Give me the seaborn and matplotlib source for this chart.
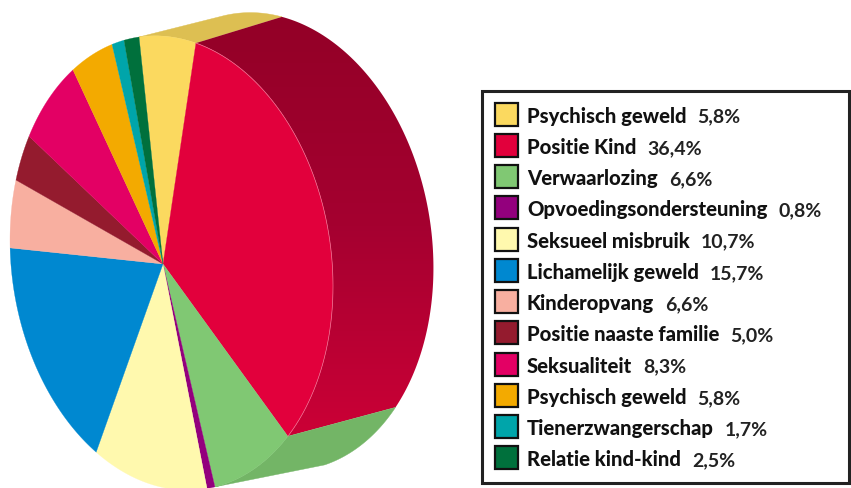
import numpy as np
import matplotlib
matplotlib.use("Agg")
import matplotlib.pyplot as plt
from matplotlib.colors import LinearSegmentedColormap
from matplotlib.patches import Polygon, Rectangle
import seaborn as sns

# ---- data
labels = ["Psychisch geweld", "Positie Kind", "Verwaarlozing", "Opvoedingsondersteuning",
          "Seksueel misbruik", "Lichamelijk geweld", "Kinderopvang", "Positie naaste familie",
          "Seksualiteit", "Psychisch geweld", "Tienerzwangerschap", "Relatie kind-kind"]
printed = ["5,8%", "36,4%", "6,6%", "0,8%", "10,7%", "15,7%", "6,6%", "5,0%", "8,3%", "5,8%", "1,7%", "2,5%"]
# slice sizes as they are actually drawn (degrees of the rim, the original is not exactly proportional)
drawn_degrees = [20.3, 125.2, 30.5, 2.9, 40.5, 60.2, 17.6, 12.5, 24.3, 16.0, 4.5, 5.5]
colors = ["#FBD95F", "#E2003C", "#80C873", "#93007D", "#FFF9AE", "#0088D0",
          "#F8AFA0", "#941B2E", "#E30064", "#F3AA00", "#00A5AA", "#00703C"]
wall_colors = {0: "#DDBF52", 2: "#73B566"}

sns.set_theme(style="white")
palette = sns.color_palette(colors)
W, H = 851, 488
fig = plt.figure(figsize=(W / 100, H / 100), dpi=100)
ax = fig.add_axes([0, 0, 1, 1])
ax.set_xlim(0, W)
ax.set_ylim(H, 0)
ax.axis("off")

# ---- projection of the tilted disc
APEX = np.array([163.0, 264.0])
START = -101.6


def rim(phi_deg):
    p = np.radians(phi_deg)
    u, v = np.cos(p), np.sin(p)
    return np.column_stack([171.5 + 161.5 * u, 263.0 + 23.0 * u + 226.0 * v])


def back(phi_deg):
    p = np.radians(phi_deg)
    u, v = np.cos(p), np.sin(p)
    return np.column_stack([269.0 + 164.0 * u + 12.0 * v, 241.8 + 9.4 * u + 229.0 * v])


edges = START + np.concatenate([[0], np.cumsum(drawn_degrees)])

# walls
for i in (0, 1, 2):
    phis = np.linspace(edges[i], edges[i + 1], 120)
    poly = np.vstack([rim(phis), back(phis)[::-1]])
    if i == 1:
        cmap = LinearSegmentedColormap.from_list("wall", ["#930027", "#A50030", "#CB0036"])
        im = ax.imshow(np.linspace(0, 1, 256)[:, None], cmap=cmap, aspect="auto",
                       extent=[0, W, poly[:, 1].max(), poly[:, 1].min()], zorder=1)
        patch = Polygon(poly, closed=True, transform=ax.transData, fc="none", ec="none")
        ax.add_patch(patch)
        im.set_clip_path(patch)
    else:
        ax.fill(poly[:, 0], poly[:, 1], color=wall_colors[i], lw=0.3, zorder=1)
ax.set_xlim(0, W)
ax.set_ylim(H, 0)

# front face
for i, c in enumerate(palette):
    arc = rim(np.linspace(edges[i], edges[i + 1], 120))
    poly = np.vstack([APEX, arc])
    ax.fill(poly[:, 0], poly[:, 1], color=c, lw=0.2, zorder=2)
red_arc = rim(np.linspace(edges[1], edges[2], 200))
ax.plot(red_arc[:, 0], red_arc[:, 1], color="#EE6F90", lw=0.5, zorder=3)

# ---- legend
ax.add_patch(Rectangle((481.5, 90.5), 367, 392, fc="white", ec="#222222", lw=2.2, zorder=4))
FONT = "Lato"
fig.canvas.draw()
rend = fig.canvas.get_renderer()
for i, (lab, pct, c) in enumerate(zip(labels, printed, palette)):
    y = 113.5 + i * 31.27
    ax.add_patch(Rectangle((495, y - 11), 23, 23, fc=c, ec="#111111", lw=1.6, zorder=5))
    t = ax.text(527, y + 2.5, lab, family=FONT, weight="black", fontsize=14.6, color="#111111",
                va="center", ha="left", zorder=5)
    bb = t.get_window_extent(rend)
    ax.text(bb.x1 + 11, y + 3.5, pct, family=FONT, weight="bold", fontsize=14, color="#222222",
            va="center", ha="left", zorder=5)

fig.savefig("out.png", dpi=100, facecolor="white")
